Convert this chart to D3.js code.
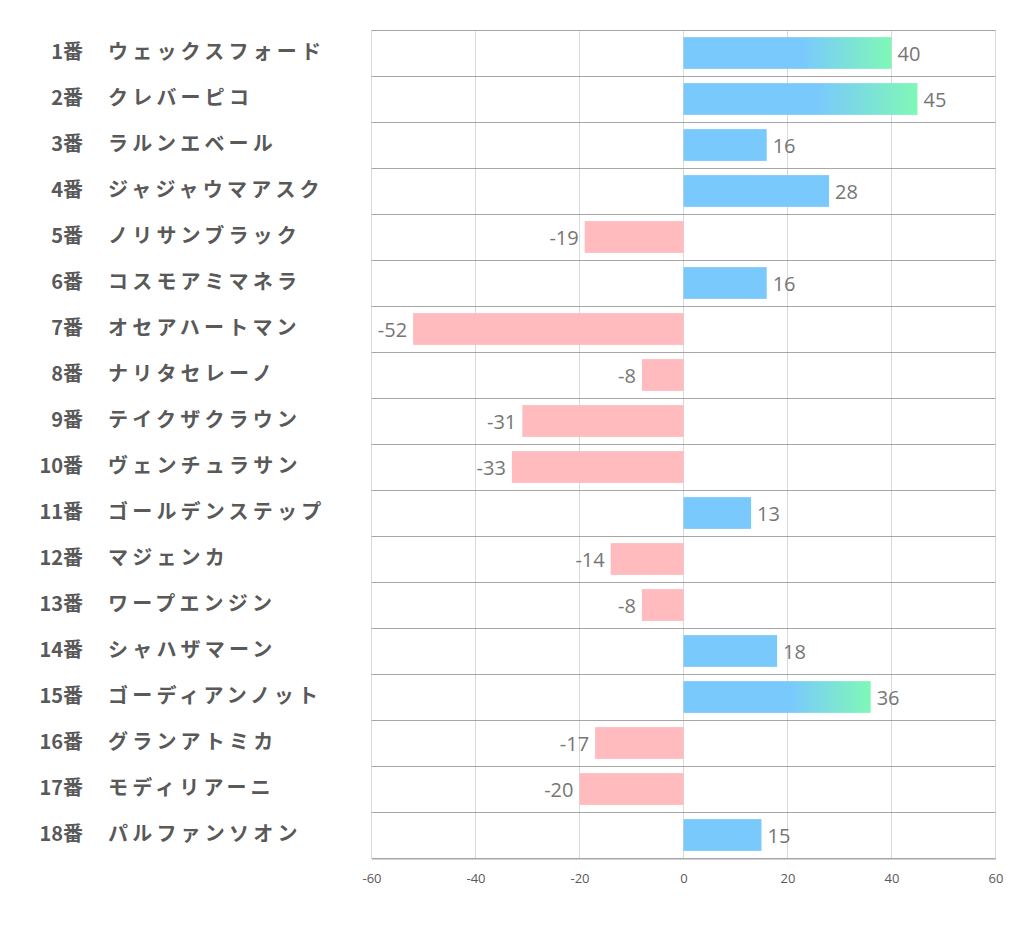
<!DOCTYPE html>
<html><head><meta charset="utf-8">
<script src="https://cdn.jsdelivr.net/npm/d3@7"></script>
<style>body{margin:0;background:#fff;} svg{display:block;}</style>
</head><body>
<script>
const numbers = ["1番","2番","3番","4番","5番","6番","7番","8番","9番","10番","11番","12番","13番","14番","15番","16番","17番","18番"];
const names = ["ウェックスフォード","クレバーピコ","ラルンエベール","ジャジャウマアスク","ノリサンブラック","コスモアミマネラ","オセアハートマン","ナリタセレーノ","テイクザクラウン","ヴェンチュラサン","ゴールデンステップ","マジェンカ","ワープエンジン","シャハザマーン","ゴーディアンノット","グランアトミカ","モディリアーニ","パルファンソオン"];
const values = [40,45,16,28,-19,16,-52,-8,-31,-33,13,-14,-8,18,36,-17,-20,15];
const ticks = [-60,-40,-20,0,20,40,60];

const W=1022,H=939;
const svg=d3.select("body").append("svg").attr("width",W).attr("height",H);
const x=d3.scaleLinear().domain([-60,60]).range([371.5,995.5]);
const y=d3.scaleBand().domain(d3.range(values.length)).range([30,858]).paddingInner(0.31).paddingOuter(0.155);
const rowH=(858-30)/values.length;

const defs=svg.append("defs");
const grad=defs.append("linearGradient").attr("id","gpos").attr("x1","0").attr("x2","1").attr("y1","0").attr("y2","0");
grad.append("stop").attr("offset","0").attr("stop-color","#79c9fd");
grad.append("stop").attr("offset","0.57").attr("stop-color","#79c9fd");
grad.append("stop").attr("offset","1").attr("stop-color","#7ff8b6");

// vertical gridlines
svg.append("g").selectAll("line").data(ticks).join("line")
  .attr("x1",d=>x(d)).attr("x2",d=>x(d)).attr("y1",30).attr("y2",858)
  .attr("stroke","#d9d9d9").attr("stroke-width",1);
// row lines
svg.append("g").selectAll("line").data(d3.range(values.length+1)).join("line")
  .attr("x1",x(-60)).attr("x2",x(60)).attr("y1",d=>Math.round(30+d*rowH)+0.5).attr("y2",d=>Math.round(30+d*rowH)+0.5)
  .attr("stroke","#a6a6a6").attr("stroke-width",1);

// bars
svg.append("g").selectAll("rect").data(values).join("rect")
  .attr("x",d=>x(Math.min(0,d))).attr("width",d=>Math.abs(x(d)-x(0)))
  .attr("y",(d,i)=>y(i)).attr("height",y.bandwidth())
  .attr("fill",d=>d<0?"#ffbbbd":(d>=30?"url(#gpos)":"#79c9fd"));

// value labels
svg.append("g").selectAll("text").data(values).join("text")
  .attr("x",d=>d<0?x(d)-6:x(d)+6).attr("y",(d,i)=>y(i)+y.bandwidth()/2+1)
  .attr("dy","0.36em").attr("text-anchor",d=>d<0?"end":"start")
  .attr("font-family","'Open Sans','Noto Sans',sans-serif").attr("font-size",20).attr("fill","#767676")
  .text(d=>d);

// category labels
const lab=svg.append("g");
lab.selectAll("text.num").data(numbers).join("text").attr("class","num")
  .attr("x",83).attr("y",(d,i)=>30+i*rowH+rowH/2-1).attr("dy","0.36em").attr("text-anchor","end")
  .attr("font-family","'Noto Sans CJK JP',sans-serif").attr("font-weight","bold").attr("font-size",20).attr("fill","#595959")
  .text(d=>d);
lab.selectAll("text.name").data(names).join("text").attr("class","name")
  .attr("x",108).attr("y",(d,i)=>30+i*rowH+rowH/2-1).attr("dy","0.36em")
  .attr("font-family","'Noto Sans CJK JP',sans-serif").attr("font-weight","bold").attr("font-size",20).attr("letter-spacing","4.2px").attr("fill","#595959")
  .text(d=>d);

// x axis
const ax=svg.append("g").attr("transform","translate(0,858.5)")
  .call(d3.axisBottom(x).tickValues(ticks).tickFormat(d=>String(d)).tickSize(0).tickPadding(15));
ax.select(".domain").attr("stroke","#a6a6a6");
ax.selectAll("text").attr("font-family","'Open Sans','Noto Sans',sans-serif").attr("font-size",13).attr("fill","#595959");
</script>
</body></html>
